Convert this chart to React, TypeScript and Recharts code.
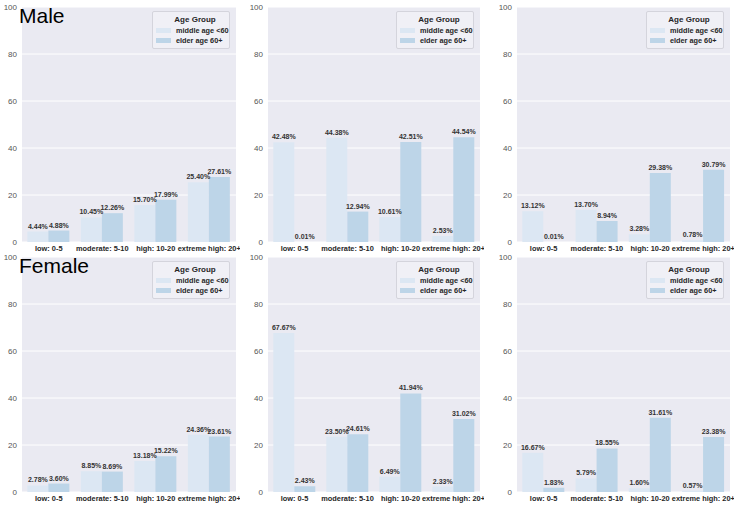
import { Bar, BarChart, CartesianGrid, LabelList, Legend, XAxis, YAxis } from "recharts";

const categories = ["low: 0-5", "moderate: 5-10", "high: 10-20", "extreme high: 20+"];
const seriesNames = ["middle age <60", "elder age 60+"];
const yTicks = [0, 20, 40, 60, 80, 100];

// male row
const male1Middle = [4.44, 10.45, 15.7, 25.4];
const male1Elder = [4.88, 12.26, 17.99, 27.61];
const male2Middle = [42.48, 44.38, 10.61, 2.53];
const male2Elder = [0.01, 12.94, 42.51, 44.54];
const male3Middle = [13.12, 13.7, 3.28, 0.78];
const male3Elder = [0.01, 8.94, 29.38, 30.79];

// female row
const female1Middle = [2.78, 8.85, 13.18, 24.36];
const female1Elder = [3.6, 8.69, 15.22, 23.61];
const female2Middle = [67.67, 23.5, 6.49, 2.33];
const female2Elder = [2.43, 24.61, 41.94, 31.02];
const female3Middle = [16.67, 5.79, 1.6, 0.57];
const female3Elder = [1.83, 18.55, 31.61, 23.38];

const MIDDLE = "#dce7f3";
const ELDER = "#bdd5e8";
const FONT = '"Liberation Sans", Arial, sans-serif';

const pct = (v: unknown) => `${Number(v).toFixed(2)}%`;

function AgeLegend() {
  const colors = [MIDDLE, ELDER];
  return (
    <div
      style={{
        width: 78,
        boxSizing: "border-box",
        border: "1px solid #d4d4dc",
        borderRadius: 2,
        background: "#f0f0f6",
        padding: "2px 3px 2px 3px",
        fontFamily: FONT,
        color: "#262626",
      }}
    >
      <div style={{ textAlign: "center", fontSize: 8, fontWeight: 700, lineHeight: "11px", paddingLeft: 8 }}>
        Age Group
      </div>
      {seriesNames.map((n, i) => (
        <div key={n} style={{ display: "flex", alignItems: "center", height: 10.5 }}>
          <span style={{ width: 15, height: 5, background: colors[i], marginRight: 5, flex: "none" }} />
          <span style={{ fontSize: 7.3, fontWeight: 700, whiteSpace: "nowrap" }}>{n}</span>
        </div>
      ))}
    </div>
  );
}

interface PanelProps {
  middle: number[];
  elder: number[];
  left: number;
  top: number;
  width: number;
  title?: string;
}

function Panel({ middle, elder, left, top, width, title }: PanelProps) {
  const data = categories.map((c, i) => ({ cat: c, middle: middle[i], elder: elder[i] }));
  return (
    <div style={{ position: "absolute", left, top, width, height: 256 }}>
      <BarChart
        width={width}
        height={256}
        data={data}
        margin={{ top: 7, right: 4, bottom: 0, left: 0 }}
        barCategoryGap="10%"
        barGap={0}
      >
        <CartesianGrid fill="#eaeaf2" fillOpacity={1} stroke="#ffffff" vertical={false} />
        <XAxis
          dataKey="cat"
          axisLine={false}
          tickLine={false}
          tickSize={2}
          tickMargin={2}
          height={14}
          interval={0}
          tick={{ fontSize: 7.4, fontWeight: 700, fill: "#262626" }}
        />
        <YAxis
          domain={[0, 100]}
          ticks={yTicks}
          width={22}
          axisLine={false}
          tickLine={false}
          tickSize={3}
          tickMargin={2}
          tick={{ fontSize: 8, fill: "#555555" }}
        />
        <Legend
          layout="horizontal"
          verticalAlign="middle"
          align="center"
          wrapperStyle={{ top: 11, left: width - 10 - 78, width: 78 }}
          content={() => <AgeLegend />}
        />
        <Bar dataKey="middle" name={seriesNames[0]} fill={MIDDLE} isAnimationActive={false}>
          <LabelList
            dataKey="middle"
            position="top"
            offset={3}
            formatter={pct}
            style={{ fontSize: 7, fontWeight: 700, fill: "#333333" }}
          />
        </Bar>
        <Bar dataKey="elder" name={seriesNames[1]} fill={ELDER} isAnimationActive={false}>
          <LabelList
            dataKey="elder"
            position="top"
            offset={3}
            formatter={pct}
            style={{ fontSize: 7, fontWeight: 700, fill: "#333333" }}
          />
        </Bar>
      </BarChart>
      {title && (
        <div
          style={{
            position: "absolute",
            left: 19,
            top: 5,
            fontSize: 21,
            lineHeight: "21px",
            color: "#000",
            fontFamily: FONT,
            pointerEvents: "none",
          }}
        >
          {title}
        </div>
      )}
    </div>
  );
}

export default function App() {
  return (
    <div
      style={{
        position: "absolute",
        left: 0,
        top: 0,
        width: 740,
        height: 507,
        background: "#ffffff",
        fontFamily: FONT,
        overflow: "hidden",
      }}
    >
      <Panel left={0} top={0} width={240} middle={male1Middle} elder={male1Elder} title="Male" />
      <Panel left={246} top={0} width={238} middle={male2Middle} elder={male2Elder} />
      <Panel left={495} top={0} width={239} middle={male3Middle} elder={male3Elder} />
      <Panel left={0} top={250} width={240} middle={female1Middle} elder={female1Elder} title="Female" />
      <Panel left={246} top={250} width={238} middle={female2Middle} elder={female2Elder} />
      <Panel left={495} top={250} width={239} middle={female3Middle} elder={female3Elder} />
    </div>
  );
}
